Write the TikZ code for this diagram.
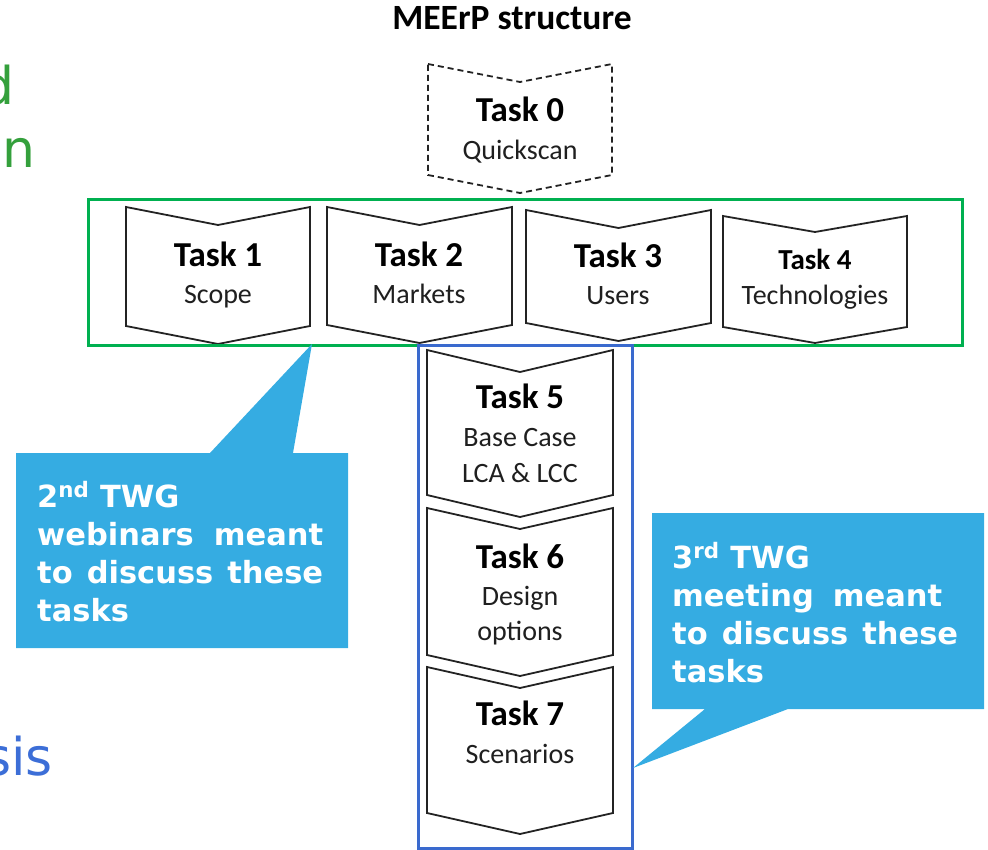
\documentclass[tikz,border=0pt]{standalone}
\usepackage{fontspec}
\setmainfont{Carlito}
\newfontfamily\callfont{DejaVu Sans}
\definecolor{boxgreen}{RGB}{0,176,80}
\definecolor{boxblue}{RGB}{58,106,206}
\definecolor{callblue}{RGB}{53,172,226}
\definecolor{slidegreen}{RGB}{52,160,60}
\definecolor{slideblue}{RGB}{60,110,215}
\definecolor{chevline}{RGB}{35,35,35}
\newcommand\chevpath[6][]{%
  \draw[chev,#1] (#2,#4) -- ({(#2+#3)/2},{#4+#6}) -- (#3,#4) -- (#3,#5)
    -- ({(#2+#3)/2},{#5+#6}) -- (#2,#5) -- cycle;}
\tikzset{
  chev/.style={draw=chevline, line width=1.8pt, line join=miter, fill=white},
  tasktitle/.style={inner sep=0pt, anchor=base, font=\bfseries\fontsize{35}{40}\selectfont},
  tasksub/.style={inner sep=0pt, anchor=base, text=black!88, font=\fontsize{28}{32}\selectfont},
  calltext/.style={inner sep=0pt, anchor=base west, text=white, font=\callfont\bfseries\fontsize{30.5}{37}\selectfont},
  slidetext/.style={inner sep=0pt, anchor=base east, font=\callfont\fontsize{52}{60}\selectfont},
}
\begin{document}
\begin{tikzpicture}[x=1pt, y=-1pt]
\useasboundingbox (0,0) rectangle (988,850);
\clip (0,0) rectangle (988,850);

% slide text running in from the left edge
\node[slidetext, text=slidegreen] (sd) at (15,105) {d};
\node[slidetext, text=slidegreen] (son) at (36,168) {on};
\node[slidetext, text=slideblue] (ssis) at (53,775) {sis};

% title
\node[inner sep=0pt, anchor=base, font=\bfseries\fontsize{35.5}{40}\selectfont] (title) at (512,30) {MEErP structure};

% task chevrons
\chevpath[dashed, dash pattern=on 6pt off 4pt]{428}{612}{64}{175}{18}
\chevpath{126}{310}{207}{326}{18}
\chevpath{327}{512}{207}{325}{18}
\chevpath{526}{711}{210}{323}{18}
\chevpath{723}{907}{216}{327}{16}
\chevpath{427}{613}{350}{495}{22}
\chevpath{427}{613}{508}{655}{21}
\chevpath{427}{613}{667}{813}{21}

% grouping frames
\draw[boxgreen, line width=3pt] (88,200) rectangle (962,345);
\draw[boxblue, line width=3pt] (418,345) rectangle (632,848);

% callouts
\fill[callblue] (16,453) -- (210,453) -- (312,344) -- (293,453) -- (348,453)
  -- (348,648) -- (16,648) -- cycle;
\fill[callblue] (652,513) -- (984,513) -- (984,709) -- (788,709) -- (633,768)
  -- (705,709) -- (652,709) -- cycle;

% task labels
\node[tasktitle] (t0) at (520,122) {Task 0};
\node[tasksub] (s0) at (520,160) {Quickscan};
\node[tasktitle] (t1) at (218,267) {Task 1};
\node[tasksub] (s1) at (218,304) {Scope};
\node[tasktitle] (t2) at (419,267) {Task 2};
\node[tasksub] (s2) at (419,304) {Markets};
\node[tasktitle] (t3) at (618,268) {Task 3};
\node[tasksub] (s3) at (618,305) {Users};
\node[tasktitle, font=\bfseries\fontsize{29}{34}\selectfont] (t4) at (815,270) {Task 4};
\node[tasksub] (s4) at (815,305) {Technologies};
\node[tasktitle] (t5) at (520,408) {Task 5};
\node[tasksub] (s5a) at (520,446) {Base Case};
\node[tasksub] (s5b) at (520,482) {LCA \& LCC};
\node[tasktitle] (t6) at (520,568) {Task 6};
\node[tasksub] (s6a) at (520,605) {Design};
\node[tasksub] (s6b) at (520,640) {options};
\node[tasktitle] (t7) at (520,725) {Task 7};
\node[tasksub] (s7) at (520,763) {Scenarios};

% callout texts
\node[calltext] (ca1) at (37,507) {2\textsuperscript{nd} TWG};
\node[calltext] (ca2) at (37,545) {\makebox[286pt][s]{webinars meant}};
\node[calltext] (ca3) at (37,583) {\makebox[286pt][s]{to discuss these}};
\node[calltext] (ca4) at (37,621) {tasks};
\node[calltext] (cb1) at (672,568) {3\textsuperscript{rd} TWG};
\node[calltext] (cb2) at (672,606) {\makebox[270pt][s]{meeting meant}};
\node[calltext] (cb3) at (672,644) {\makebox[286pt][s]{to discuss these}};
\node[calltext] (cb4) at (672,682) {tasks};
\end{tikzpicture}
\end{document}
